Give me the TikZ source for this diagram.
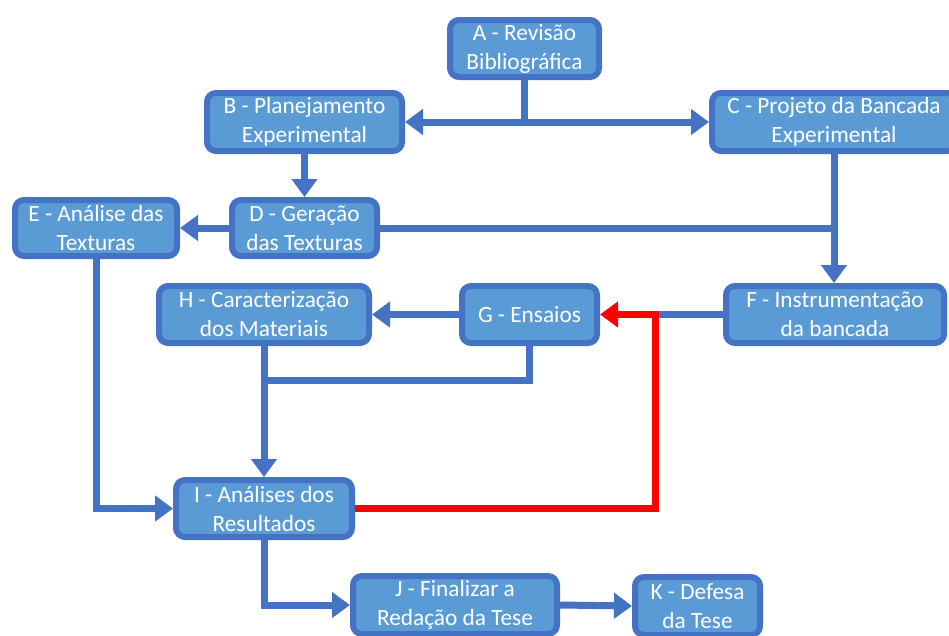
\documentclass[tikz,border=0pt]{standalone}
\usepackage{fontspec}
\setmainfont{Carlito}
\usetikzlibrary{arrows.meta}
\definecolor{boxfill}{HTML}{5B9BD5}
\definecolor{boxline}{HTML}{4472C4}
\definecolor{redline}{HTML}{FF0000}
\tikzset{
  stepbox/.style={draw=boxline, fill=boxfill, line width=6pt, rounded corners=9pt,
    text=white, align=center, inner sep=0pt,
    font=\fontsize{23.3}{29}\selectfont},
  conn/.style={draw=boxline, line width=7pt, -{Triangle[length=18pt,width=25pt]}},
  plainconn/.style={draw=boxline, line width=7pt},
  redconn/.style={draw=redline, line width=7pt, -{Triangle[length=18pt,width=25pt]}},
}
\begin{document}
\begin{tikzpicture}[x=1pt,y=-1pt]
\useasboundingbox (0,0) rectangle (949,635);
\begin{scope}
\clip (0,0) rectangle (949,635);
\node[stepbox, minimum width=149pt, minimum height=57pt] (A) at (524.5,48.5) {A - Revisão\\Bibliográfica};
\node[stepbox, minimum width=195pt, minimum height=58pt] (B) at (304.5,122) {B - Planejamento\\Experimental};
\node[stepbox, minimum width=244pt, minimum height=58pt] (C) at (834,122) {C - Projeto da Bancada\\Experimental};
\node[stepbox, minimum width=145pt, minimum height=56pt] (D) at (304.5,228) {D - Geração\\das Texturas};
\node[stepbox, minimum width=162pt, minimum height=56pt] (E) at (96,228) {E - Análise das\\Texturas};
\node[stepbox, minimum width=218pt, minimum height=57pt] (F) at (835,314.5) {F - Instrumentação\\da bancada};
\node[stepbox, minimum width=135pt, minimum height=57pt] (G) at (529.5,314.5) {G - Ensaios};
\node[stepbox, minimum width=210pt, minimum height=57pt] (H) at (264,314.5) {H - Caracterização\\dos Materiais};
\node[stepbox, minimum width=176pt, minimum height=57pt] (I) at (264,508.5) {I - Análises dos\\Resultados};
\node[stepbox, minimum width=204pt, minimum height=58pt] (J) at (455,605) {J - Finalizar a\\Redação da Tese};
\node[stepbox, minimum width=125pt, minimum height=58pt] (K) at (697.5,606) {K - Defesa\\da Tese};
\end{scope}
\coordinate (rc) at (655,314.5);
\coordinate (gh) at (264,380);
\draw[conn] (A.south) |- (B.east);
\draw[conn] (A.south) |- (C.west);
\draw[conn] (B.south) -- (D.north);
\draw[conn] (D.west) -- (E.east);
\draw[plainconn] (D.east) -- (D.east -| C.south);
\draw[conn] (C.south) -- (C.south |- F.north);
\draw[plainconn] (F.west) -- (rc);
\draw[conn] (G.west) -- (H.east);
\draw[plainconn] (G.south) |- (gh);
\draw[conn] (H.south) -- (I.north);
\draw[conn] (E.south) |- (I.west);
\draw[redconn] (I.east) -| (rc) -- (G.east);
\draw[conn] (I.south) |- (J.west);
\draw[conn] (J.east) -- (K.west);
\end{tikzpicture}
\end{document}
